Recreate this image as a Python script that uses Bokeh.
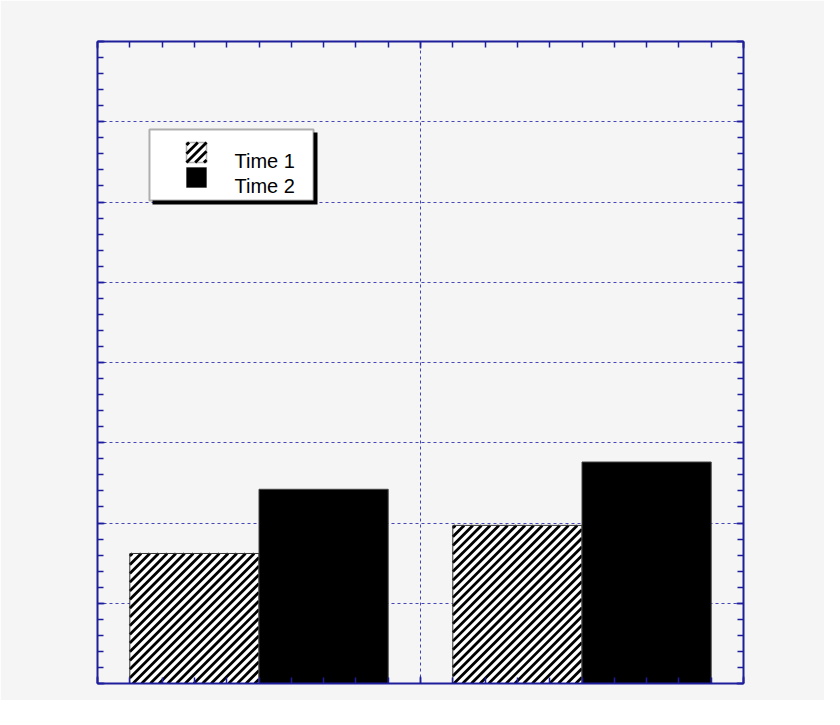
from bokeh.plotting import figure
from bokeh.models import (Range1d, SingleIntervalTicker, LinearAxis, Label,
                          BoxAnnotation, CustomJSTickFormatter)
from bokeh.embed import file_html
from bokeh.resources import INLINE

# ---- data ----
group_pos = [0.5, 1.5]
bar_offset = 0.2
bar_width = 0.4
time1 = [1.62, 1.97]
time2 = [2.42, 2.76]
series_labels = ["Time 1", "Time 2"]

X_MIN, X_MAX = 0, 2
Y_MIN, Y_MAX = 0, 8
FRAME_W, FRAME_H = 646, 642
KX = FRAME_W / (X_MAX - X_MIN)   # px per x unit
KY = FRAME_H / (Y_MAX - Y_MIN)   # px per y unit

AXIS_COLOR = "#1e1e9c"
GRID_COLOR = "#4646b8"
BG = "#f5f5f5"
HATCH_STEP = 8.7     # px between stripes (horizontal)
HATCH_W = 2.8

p = figure(frame_width=FRAME_W, frame_height=FRAME_H, output_backend="svg", toolbar_location=None,
           x_range=Range1d(X_MIN, X_MAX), y_range=Range1d(Y_MIN, Y_MAX),
           x_axis_location=None, y_axis_location=None,
           min_border_left=97, min_border_right=81, min_border_top=41, min_border_bottom=17)
p.background_fill_color = BG
p.border_fill_color = BG
p.outline_line_color = None

blank = CustomJSTickFormatter(code="return ''")

def mk_axis(ticker):
    ax = LinearAxis(ticker=ticker, formatter=blank)
    ax.axis_line_color = AXIS_COLOR
    ax.axis_line_width = 2
    ax.major_tick_line_color = AXIS_COLOR
    ax.minor_tick_line_color = AXIS_COLOR
    ax.major_tick_line_width = 1.5
    ax.minor_tick_line_width = 1.5
    ax.major_tick_in = 7
    ax.major_tick_out = 0
    ax.minor_tick_in = 6
    ax.minor_tick_out = 0
    ax.major_label_text_font_size = "0px"
    ax.major_label_standoff = 0
    return ax

xt = SingleIntervalTicker(interval=1, num_minor_ticks=10)
yt = SingleIntervalTicker(interval=1, num_minor_ticks=5)
for loc in ["below", "above"]:
    p.add_layout(mk_axis(xt), loc)
for loc in ["left", "right"]:
    p.add_layout(mk_axis(yt), loc)

p.xgrid.ticker = xt
p.ygrid.ticker = yt
for g in (p.xgrid, p.ygrid):
    g.grid_line_color = GRID_COLOR
    g.grid_line_dash = "3 3"
    g.grid_line_width = 1


def diag_hatch(x0, y0, x1, y1, step=HATCH_STEP):
    """45-degree (on screen) '/' stripes filling the data-space box (x0,y0)-(x1,y1)."""
    W = (x1 - x0) * KX
    H = (y1 - y0) * KY
    sx0, sy0, sx1, sy1 = [], [], [], []
    c = -H + step * 0.3
    while c < W:
        v0 = max(0.0, -c)
        v1 = min(H, W - c)
        if v1 > v0:
            sx0.append(x0 + (v0 + c) / KX); sy0.append(y0 + v0 / KY)
            sx1.append(x0 + (v1 + c) / KX); sy1.append(y0 + v1 / KY)
        c += step
    return sx0, sy0, sx1, sy1


x1 = [g - bar_offset for g in group_pos]
x2 = [g + bar_offset for g in group_pos]

# Time 1: white bars with diagonal hatching
p.vbar(x=x1, top=time1, bottom=0, width=bar_width, fill_color="white", line_color=None)
hx0, hy0, hx1, hy1 = [], [], [], []
for xc, top in zip(x1, time1):
    a, b, c_, d = diag_hatch(xc - bar_width / 2, 0, xc + bar_width / 2, top)
    hx0 += a; hy0 += b; hx1 += c_; hy1 += d
p.segment(x0=hx0, y0=hy0, x1=hx1, y1=hy1, line_color="black", line_width=HATCH_W, line_cap="butt")
p.vbar(x=x1, top=time1, bottom=0, width=bar_width, fill_color=None,
       line_color="#333333", line_width=1)

# Time 2: solid black bars
p.vbar(x=x2, top=time2, bottom=0, width=bar_width, fill_color="black",
       line_color="#444444", line_width=1)

# ---- legend (screen units, relative to plot frame bottom-left) ----
def sbox(level="annotation", **kw):
    return BoxAnnotation(left_units="screen", right_units="screen",
                         top_units="screen", bottom_units="screen",
                         level=level, **kw)

p.add_layout(sbox(left=55, right=220, bottom=479, top=551,
                  fill_color="black", fill_alpha=1, line_color=None))
p.add_layout(sbox(left=52, right=216, bottom=483, top=554,
                  fill_color="white", fill_alpha=1, line_color="black", line_width=2))

# hatched swatch
SW = (89, 109, 521, 541)  # left, right, bottom, top in frame px
a, b, c_, d = diag_hatch(SW[0] / KX, SW[2] / KY, SW[1] / KX, SW[3] / KY)
p.segment(x0=a, y0=b, x1=c_, y1=d, line_color="black", line_width=HATCH_W,
          line_cap="butt", level="overlay")
p.add_layout(sbox(level="overlay", left=SW[0], right=SW[1], bottom=SW[2], top=SW[3],
                  fill_color=None, line_color="black", line_width=1.5))
# solid swatch
p.add_layout(sbox(left=89, right=109, bottom=496, top=516,
                  fill_color="black", fill_alpha=1, line_color="black", line_width=1))

for lbl, yb in zip(series_labels, [523, 498]):
    p.add_layout(Label(x=137, y=yb, x_units="screen", y_units="screen", text=lbl,
                       text_font="Liberation Sans", text_font_size="20px",
                       text_color="black", text_baseline="alphabetic", text_align="left"))

open("out.html", "w").write(file_html(p, INLINE))
